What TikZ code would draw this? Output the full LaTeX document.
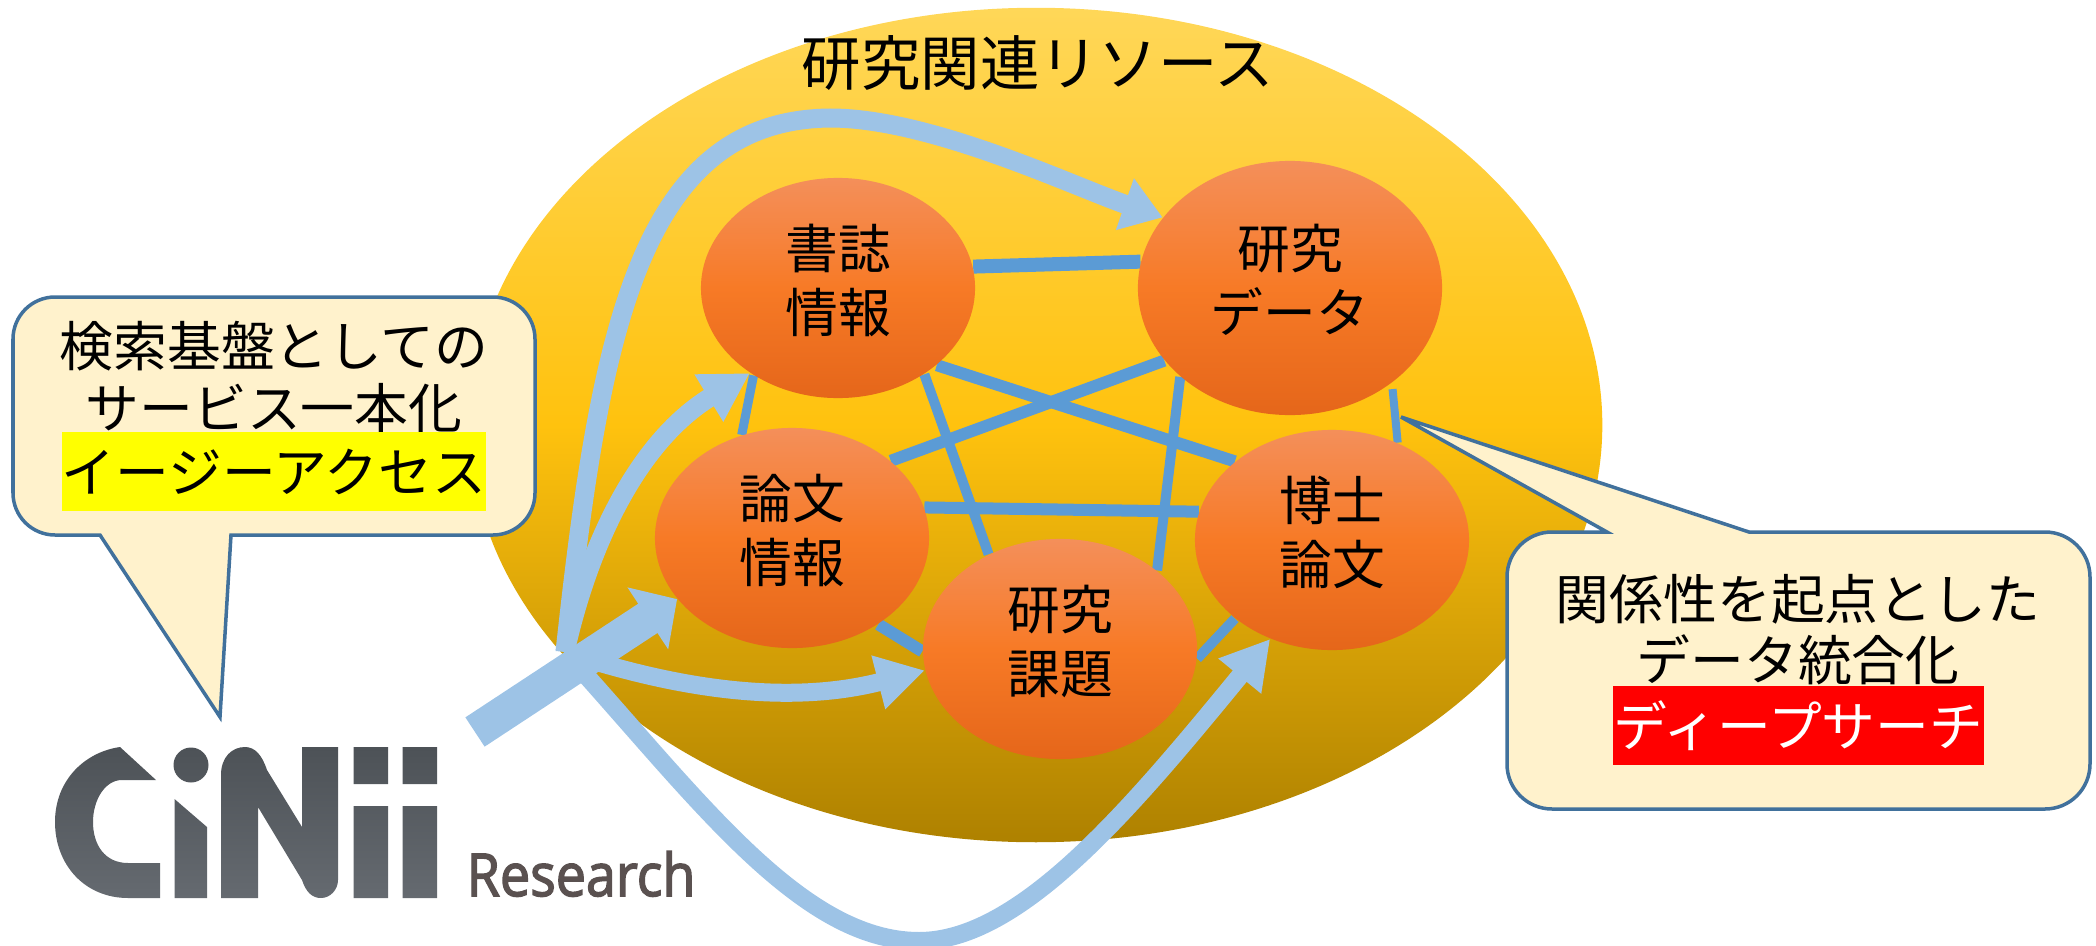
\documentclass[tikz,border=0pt]{standalone}
\usepackage{fontspec}
\setmainfont{Noto Sans CJK JP}
\newfontfamily\logofont[FakeBold=2.5]{Open Sans}
\usetikzlibrary{arrows.meta,positioning,shapes.geometric}
\definecolor{linkblue}{HTML}{5B9BD5}
\definecolor{arrowblue}{HTML}{9DC3E6}
\definecolor{callfill}{HTML}{FFF2CC}
\definecolor{callline}{HTML}{41719C}
\definecolor{easyyellow}{HTML}{FFFF00}
\definecolor{deepred}{HTML}{FF0000}
\pgfdeclarelayer{back}
\pgfdeclarelayer{mid}
\pgfsetlayers{back,mid,main}
\begin{document}
\begin{tikzpicture}[x=0.01cm,y=-0.01cm,
main node/.style={ellipse,minimum width=2.74cm,minimum height=2.2cm,inner sep=0pt,align=center,text depth=.2cm,
  top color={rgb,255:red,244;green,143;blue,90},bottom color={rgb,255:red,229;green,102;blue,26},middle color={rgb,255:red,247;green,122;blue,38},
  font=\fontsize{15}{18.2}\selectfont},
link/.style={draw=linkblue,line width=.12cm},
flow/.style={draw=arrowblue,line width=.19cm,-{Triangle[length=.48cm,width=.52cm]}},
callbox/.style={draw=callline,fill=callfill,line width=.035cm},
calltext/.style={font=\fontsize{15.3}{18}\selectfont,inner sep=0pt}]
\useasboundingbox (0,0) rectangle (2096,945);
\begin{pgfonlayer}{back}
\node[ellipse,minimum width=11.32cm,minimum height=8.34cm,inner sep=0pt,top color={rgb,255:red,255;green,215;blue,88},bottom color={rgb,255:red,174;green,129;blue,0},middle color={rgb,255:red,255;green,194;blue,14}] (res) at (1036,425) {};
\end{pgfonlayer}
\node[font=\fontsize{16.9}{20}\selectfont,inner sep=0pt] (title) at (1038,63) {研究関連リソース};
\begin{scope}
\node[main node] (v1) at (838,288) {書誌\\情報};
\node[main node,minimum width=3.04cm,minimum height=2.54cm] (v2) at (1290,288) {研究\\データ};
\node[main node] (v3) at (792,538) {論文\\情報};
\node[main node] (v4) at (1060,649) {研究\\課題};
\node[main node] (v5) at (1332,540) {博士\\論文};
\end{scope}
\begin{pgfonlayer}{mid}
\draw[link,line width=.14cm] (v1.9.7) edge (v2.170.5);
\draw[link,line width=.09cm] (v1.226.3) edge (v3.116);
\draw[link,line width=.1cm] (v1.-45.7) edge (v4.127);
\draw[link] (v1.-38.2) edge (v5.141.8);
\draw[link] (v3.38.9) edge (v2.210.5);
\draw[link] (v3.13.9) edge (v5.168.4);
\draw[link,line width=.1cm] (v2.219.9) edge (v4.39.2);
\draw[link,line width=.08cm,shorten <=.06cm] (v2.-43.9) edge (v5.56);
\draw[link] (v3.-45.3) edge (v4.181);
\draw[link,line width=.1cm] (v4.-4) edge (v5.219);
\end{pgfonlayer}
% arrows out of the logo
\coordinate (hub) at (565,652);
\coordinate (logo) at (475,732);
\draw[flow,-{Triangle[length=.4cm,width=.52cm]}] (hub) .. controls (600,330) and (640,120) .. (830,118) .. controls (930,118) and (1070,185) .. (v2.151.8);
\draw[flow] (hub) .. controls (590,540) and (640,440) .. (v1.224);
\draw[flow,line width=.18cm] (hub) .. controls (680,690) and (790,705) .. (v4.189);
\draw[flow,line width=.18cm] (hub) .. controls (695,795) and (800,941) .. (919,941) .. controls (1020,941) and (1130,810) .. (v5.238.9);
\draw[draw=arrowblue,line width=.35cm,-{Triangle[length=.35cm,width=.72cm]}] (logo) -- (v3.208.8);
% left callout
\draw[callbox] (100,535) [rounded corners=.42cm] -- (13,535) -- (13,297) -- (535,297) -- (535,535) [sharp corners] -- (231,535) -- (220,717) -- cycle;
\node[calltext] (left1) at (274,346) {検索基盤としての};
\node[calltext] (left2) at (274,408) {サービス一本化};
\node[calltext,fill=easyyellow,minimum width=4.22cm,minimum height=.79cm] (left3) at (274,471.5) {イージーアクセス};
% right callout
\draw[callbox] (1607,532) [rounded corners=.45cm] -- (1507,532) -- (1507,809) -- (2090,809) -- (2090,532) [sharp corners] -- (1749,532) -- (1401,417) -- cycle;
\node[calltext] (right1) at (1798,599) {関係性を起点とした};
\node[calltext] (right2) at (1798,660) {データ統合化};
\node[calltext,fill=deepred,text=white,minimum width=3.71cm,minimum height=.79cm] (right3) at (1798.5,725.5) {ディープサーチ};
% logo
\shade[top color={rgb,255:red,77;green,82;blue,87},bottom color={rgb,255:red,101;green,106;blue,112}]
 (120,747) -- (156,780) -- (122,780) .. controls (105,780) and (93,800) .. (93,822) .. controls (93,845) and (105,863) .. (128,863) -- (160,863) -- (160,898) -- (128,898) .. controls (85,898) and (55,865) .. (55,822) .. controls (55,780) and (85,752) .. (120,747) -- cycle
 (191,765) ellipse [x radius=17.5,y radius=17.5]
 (174.5,799) -- (207,827) -- (207,898) -- (174.5,898) -- cycle
 (221,898) -- (221,775) .. controls (221,757) and (232,747) .. (245,747) .. controls (255,747) and (262,755) .. (267,770) -- (302,827) -- (302,747) -- (338,747) -- (338,880) .. controls (338,890) and (330,898) .. (321,898) .. controls (312,898) and (306,892) .. (302,880) -- (258,807) -- (258,898) -- cycle
 (353.5,747) rectangle (388,784) (353.5,806) rectangle (388,898)
 (402.5,747) rectangle (437,784) (402.5,806) rectangle (437,898);
\node[font=\logofont\fontsize{15.3}{18}\selectfont,text={rgb,255:red,90;green,81;blue,80},inner sep=0pt,anchor=base west,yscale=1.1] (research) at (466,896) {Research};
\end{tikzpicture}
\end{document}
